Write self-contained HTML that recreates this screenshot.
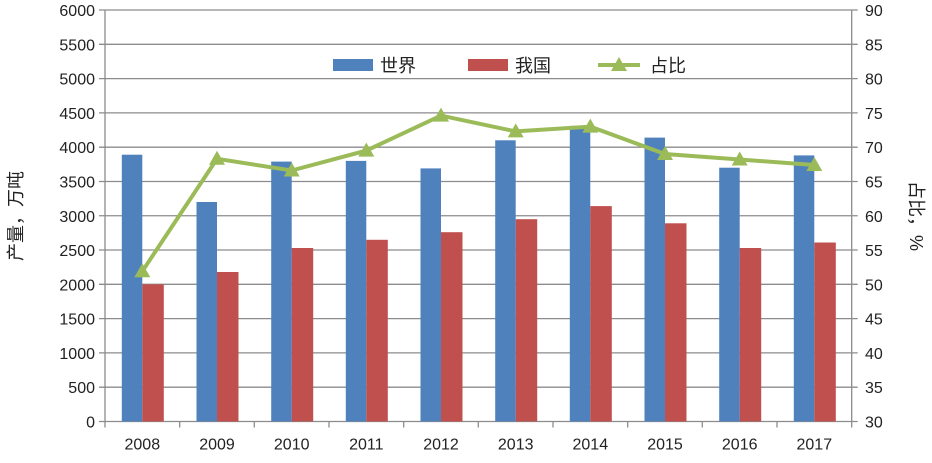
<!DOCTYPE html><html><head><meta charset="utf-8"><style>body{margin:0;background:#fff}svg{display:block}text{font-family:"Liberation Sans","Noto Sans CJK SC",sans-serif;fill:#222;font-size:16px}</style></head><body>
<svg width="932" height="463" viewBox="0 0 932 463" xmlns="http://www.w3.org/2000/svg">
<g stroke="#8c8c8c" stroke-width="1.3">
<path d="M99 421.5H857.7M99 387.2H857.7M99 352.9H857.7M99 318.6H857.7M99 284.3H857.7M99 250H857.7M99 215.75H857.7M99 181.5H857.7M99 147.2H857.7M99 112.9H857.7M99 78.6H857.7M99 44.3H857.7M99 10H857.7"/>
<path d="M105 10V421.5M851.7 10V421.5"/>
<path d="M105 421.5v6M179.7 421.5v6M254.3 421.5v6M329 421.5v6M403.7 421.5v6M478.3 421.5v6M553 421.5v6M627.7 421.5v6M702.3 421.5v6M777 421.5v6M851.7 421.5v6"/>
</g>
<g text-anchor="end">
<text x="95" y="427.5">0</text><text x="95" y="393.2">500</text><text x="95" y="358.9">1000</text><text x="95" y="324.6">1500</text><text x="95" y="290.3">2000</text><text x="95" y="256">2500</text><text x="95" y="221.75">3000</text><text x="95" y="187.5">3500</text><text x="95" y="153.2">4000</text><text x="95" y="118.9">4500</text><text x="95" y="84.6">5000</text><text x="95" y="50.3">5500</text><text x="95" y="16">6000</text>
</g>
<g>
<text x="865" y="427.5">30</text><text x="865" y="393.2">35</text><text x="865" y="358.9">40</text><text x="865" y="324.6">45</text><text x="865" y="290.3">50</text><text x="865" y="256">55</text><text x="865" y="221.75">60</text><text x="865" y="187.5">65</text><text x="865" y="153.2">70</text><text x="865" y="118.9">75</text><text x="865" y="84.6">80</text><text x="865" y="50.3">85</text><text x="865" y="16">90</text>
</g>
<g fill="#4f81bd">
<rect x="121.8" y="154.7" width="20.5" height="266.8"/><rect x="196.5" y="202" width="20.5" height="219.5"/><rect x="271.2" y="161.6" width="20.5" height="259.9"/><rect x="345.8" y="160.9" width="20.5" height="260.6"/><rect x="420.5" y="168.4" width="20.5" height="253.1"/><rect x="495.2" y="140.3" width="20.5" height="281.2"/><rect x="569.8" y="125.9" width="20.5" height="295.6"/><rect x="644.5" y="137.6" width="20.5" height="283.9"/><rect x="719.2" y="167.7" width="20.5" height="253.8"/><rect x="793.8" y="155.4" width="20.5" height="266.1"/>
</g>
<g fill="#c0504d">
<rect x="142.3" y="284.3" width="21.5" height="137.2"/><rect x="217" y="272" width="21.5" height="149.5"/><rect x="291.7" y="248" width="21.5" height="173.5"/><rect x="366.3" y="239.8" width="21.5" height="181.7"/><rect x="441" y="232.2" width="21.5" height="189.3"/><rect x="515.7" y="219.2" width="21.5" height="202.3"/><rect x="590.3" y="206.1" width="21.5" height="215.4"/><rect x="665" y="223.3" width="21.5" height="198.2"/><rect x="739.7" y="248" width="21.5" height="173.5"/><rect x="814.3" y="242.5" width="21.5" height="179"/>
</g>
<polyline points="142.3,271.3 217,158.8 291.7,170.5 366.3,150.6 441,115.6 515.7,131.4 590.3,126.6 665,154 739.7,159.5 814.3,165" fill="none" stroke="#9bbb59" stroke-width="4"/>
<g fill="#9bbb59">
<polygon points="134.3,277.3 150.3,277.3 142.3,263.3"/><polygon points="209,164.8 225,164.8 217,150.8"/><polygon points="283.7,176.5 299.7,176.5 291.7,162.5"/><polygon points="358.3,156.6 374.3,156.6 366.3,142.6"/><polygon points="433,121.6 449,121.6 441,107.6"/><polygon points="507.7,137.4 523.7,137.4 515.7,123.4"/><polygon points="582.3,132.6 598.3,132.6 590.3,118.6"/><polygon points="657,160 673,160 665,146"/><polygon points="731.7,165.5 747.7,165.5 739.7,151.5"/><polygon points="806.3,171 822.3,171 814.3,157"/>
</g>
<g text-anchor="middle">
<text x="142.3" y="449.5">2008</text><text x="217" y="449.5">2009</text><text x="291.7" y="449.5">2010</text><text x="366.3" y="449.5">2011</text><text x="441" y="449.5">2012</text><text x="515.7" y="449.5">2013</text><text x="590.3" y="449.5">2014</text><text x="665" y="449.5">2015</text><text x="739.7" y="449.5">2016</text><text x="814.3" y="449.5">2017</text>
</g>
<rect x="333" y="59" width="40" height="12" fill="#4f81bd"/><text x="380" y="72" style="font-size:18px">世界</text>
<rect x="468" y="59" width="40" height="12" fill="#c0504d"/><text x="515" y="72" style="font-size:18px">我国</text>
<line x1="598" x2="640" y1="65" y2="65" stroke="#9bbb59" stroke-width="4"/><polygon points="611,71 627,71 619,57" fill="#9bbb59"/><text x="650" y="72" style="font-size:18px">占比</text>
<text transform="translate(22,216) rotate(-90)" text-anchor="middle" style="font-size:18px">产量，万吨</text>
<text transform="translate(910,216) rotate(90)" text-anchor="middle" style="font-size:18px">占比，%</text>
</svg></body></html>
